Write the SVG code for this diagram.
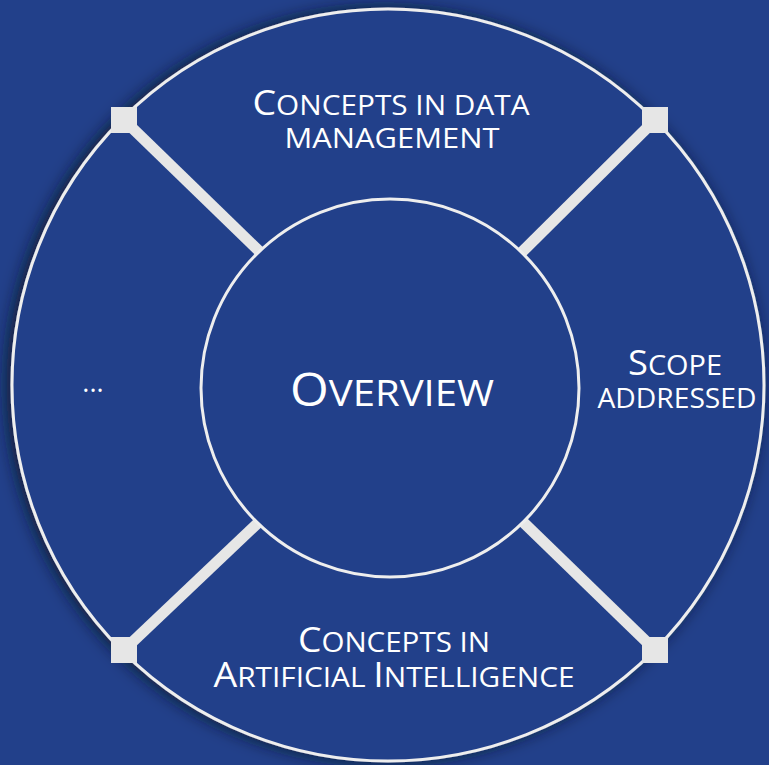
<svg xmlns="http://www.w3.org/2000/svg" width="769" height="765" viewBox="0 0 769 765">
  <defs>
    <filter id="shadow" x="-10%" y="-10%" width="120%" height="120%">
      <feDropShadow dx="-4" dy="0" stdDeviation="8" flood-color="#081228" flood-opacity="0.85"/>
    </filter>
  </defs>
  <style>
    .ring { fill: #22408a; stroke: #eeeeee; stroke-width: 3; }
    .bar { stroke: #e6e6e6; stroke-width: 11; stroke-linecap: butt; }
    .sq { fill: #e6e6e6; }
    .t { fill: #ffffff; font-family: "Open Sans", "Noto Sans", "Liberation Sans", sans-serif; text-anchor: middle; }
    .b { font-size: 34px; }
    .s { font-size: 27px; }
    .bo { font-size: 46px; }
    .so { font-size: 37px; }
  </style>
  <rect width="769" height="765" fill="#22408a"/>
  <g id="outer">
    <circle class="ring" cx="388" cy="385" r="376" filter="url(#shadow)"/>
  </g>
  <g id="connectors">
    <line class="bar" x1="124" y1="120" x2="260" y2="252"/>
    <line class="bar" x1="655" y1="120" x2="522" y2="252"/>
    <line class="bar" x1="124" y1="650" x2="260" y2="521"/>
    <line class="bar" x1="655" y1="650" x2="522" y2="521"/>
    <rect class="sq" x="111" y="107" width="26" height="26"/>
    <rect class="sq" x="642" y="107" width="26" height="26"/>
    <rect class="sq" x="111" y="637" width="26" height="26"/>
    <rect class="sq" x="642" y="637" width="26" height="26"/>
  </g>
  <g id="overview">
    <circle class="ring" cx="390" cy="388" r="189"/>
    <text class="t" x="392" y="406" textLength="204" lengthAdjust="spacingAndGlyphs"><tspan class="bo">O</tspan><tspan class="so">VERVIEW</tspan></text>
  </g>
  <g id="data-management">
    <text class="t" x="391" y="115" textLength="277" lengthAdjust="spacingAndGlyphs"><tspan class="b">C</tspan><tspan class="s">ONCEPTS IN DATA</tspan></text>
    <text class="t s" x="392" y="148" textLength="215" lengthAdjust="spacingAndGlyphs">MANAGEMENT</text>
  </g>
  <g id="scope">
    <text class="t" x="675" y="375" textLength="94" lengthAdjust="spacingAndGlyphs"><tspan class="b">S</tspan><tspan class="s">COPE</tspan></text>
    <text class="t s" x="677" y="408" textLength="159" lengthAdjust="spacingAndGlyphs">ADDRESSED</text>
  </g>
  <g id="artificial-intelligence">
    <text class="t" x="394" y="652" textLength="192" lengthAdjust="spacingAndGlyphs"><tspan class="b">C</tspan><tspan class="s">ONCEPTS IN</tspan></text>
    <text class="t" x="394" y="687" textLength="361" lengthAdjust="spacingAndGlyphs"><tspan class="b">A</tspan><tspan class="s">RTIFICIAL </tspan><tspan class="b">I</tspan><tspan class="s">NTELLIGENCE</tspan></text>
  </g>
  <g id="ellipsis">
    <text class="t s" x="93" y="392">...</text>
  </g>
</svg>
